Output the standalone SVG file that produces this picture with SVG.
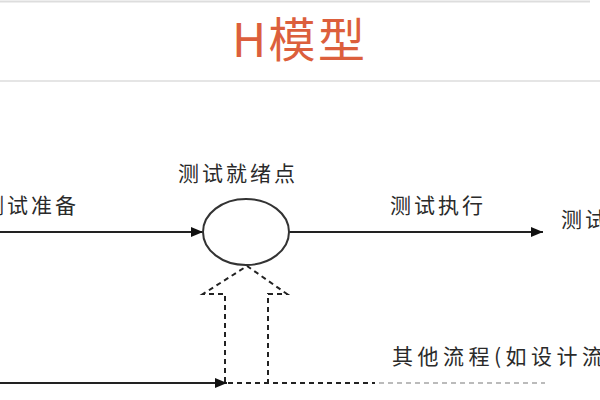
<svg xmlns="http://www.w3.org/2000/svg" width="600" height="400" viewBox="0 0 600 400">
<style>
.lbl{font-family:"Noto Sans CJK SC","Noto Sans",sans-serif;font-size:21px;fill:#2a2a2a;letter-spacing:3px}
.ln{stroke:#222;stroke-width:2;fill:none}
.dash{stroke:#222;stroke-width:2;fill:none;stroke-dasharray:5 4}
</style>
<defs>
<marker id="ah" viewBox="0 0 12 10" refX="12" refY="5" markerWidth="12" markerHeight="10" markerUnits="userSpaceOnUse" orient="auto">
<path d="M0,0 L12,5 L0,10 Z" fill="#111"/>
</marker>
</defs>
<rect width="600" height="400" fill="#fff"/>
<line x1="0" y1="1.5" x2="590" y2="1.5" stroke="#ddd" stroke-width="2"/>
<line x1="0" y1="81" x2="600" y2="81" stroke="#ddd" stroke-width="1.5"/>
<text id="title" x="232" y="57" font-family="'Noto Sans CJK SC',sans-serif" font-size="47" fill="#dc5f3c" textLength="133" lengthAdjust="spacing">H模型</text>
<g id="connectors">
<line class="ln" x1="0" y1="232" x2="203" y2="232" marker-end="url(#ah)"/>
<line class="ln" x1="289" y1="232" x2="543" y2="232" marker-end="url(#ah)"/>
<line class="ln" x1="0" y1="383" x2="227" y2="383" marker-end="url(#ah)"/>
<path class="dash" d="M225,382 V294 H203 L247,266 L287,294 H268 V382"/>
<line class="dash" x1="228" y1="383" x2="375" y2="383"/>
<line x1="379" y1="383" x2="545" y2="383" stroke="#bbb" stroke-width="2" stroke-dasharray="5 4"/>
</g>
<g id="node-ready">
<ellipse cx="246" cy="232" rx="43" ry="33" fill="#fff" stroke="#333" stroke-width="2"/>
<text class="lbl" x="178" y="181">测试就绪点</text>
</g>
<g id="label-prep"><text class="lbl" x="-17" y="213">测试准备</text></g>
<g id="label-exec"><text class="lbl" x="390" y="213">测试执行</text></g>
<g id="label-end"><text class="lbl" x="561" y="227">测试</text></g>
<g id="label-other"><text class="lbl" x="392" y="364" style="letter-spacing:4.5px">其他流程(如设计流</text></g>
</svg>
